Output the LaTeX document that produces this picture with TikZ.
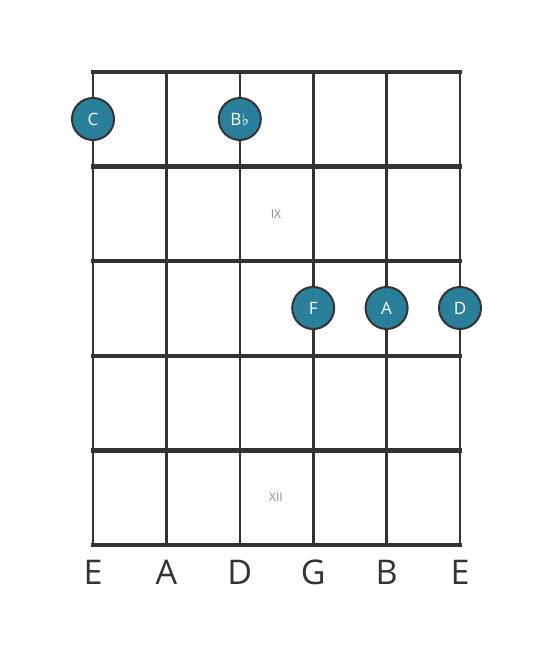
\documentclass[tikz,border=0pt]{standalone}
\usepackage{fontspec}
\usetikzlibrary{calc}
\setmainfont{Open Sans}
\newfontfamily\symfont{DejaVu Sans}
\definecolor{ink}{HTML}{333333}
\definecolor{dot}{HTML}{2A7F9B}
\definecolor{roman}{HTML}{8A8A8A}
\tikzset{
  fretline/.style={draw=ink, line width=4.5pt, line cap=rect},
  stringline/.style={draw=ink, line width=2.6pt},
  notedot/.style={circle, fill=dot, draw=ink, line width=2pt, minimum size=42pt, inner sep=0pt, text=white, font=\fontsize{17}{17}\selectfont},
  strlabel/.style={text=ink, font=\fontsize{34}{34}\selectfont, anchor=base},
  fretnum/.style={text=roman, font=\fontsize{12}{12}\selectfont}
}
\begin{document}
\begin{tikzpicture}[x=1pt,y=-1pt]
\useasboundingbox (0,0) rectangle (553,656);
% string coordinates
\foreach \i/\x in {1/93,2/166.4,3/239.8,4/313.2,5/386.6,6/460} {
  \coordinate (st\i) at (\x,72);
  \coordinate (sb\i) at (\x,545);
}
\foreach \i in {1,...,6} { \draw[stringline] (st\i) -- (sb\i); }
\foreach \j/\y in {0/72,1/166.6,2/261.2,3/355.8,4/450.4,5/545} {
  \coordinate (fl\j) at (93,\y);
  \coordinate (fr\j) at (460,\y);
  \draw[fretline] (fl\j) -- (fr\j);
}
\node[fretnum] (ix) at (276,214) {IX};
\node[fretnum] (xii) at (276,497) {XII};
\node[notedot] (c) at (93,119) {C};
\node[notedot] (bb) at (239.8,119) {B\kern0.3pt{\symfont\fontsize{16}{16}\selectfont ♭}};
\node[notedot] (f) at (313.2,308) {F};
\node[notedot] (a) at (386.6,308) {A};
\node[notedot] (d) at (460,308) {D};
\foreach \i/\n in {1/E,2/A,3/D,4/G,5/B,6/E} {
  \node[strlabel] (lab\i) at ($(sb\i)+(0,39)$) {\n};
}
\end{tikzpicture}
\end{document}
